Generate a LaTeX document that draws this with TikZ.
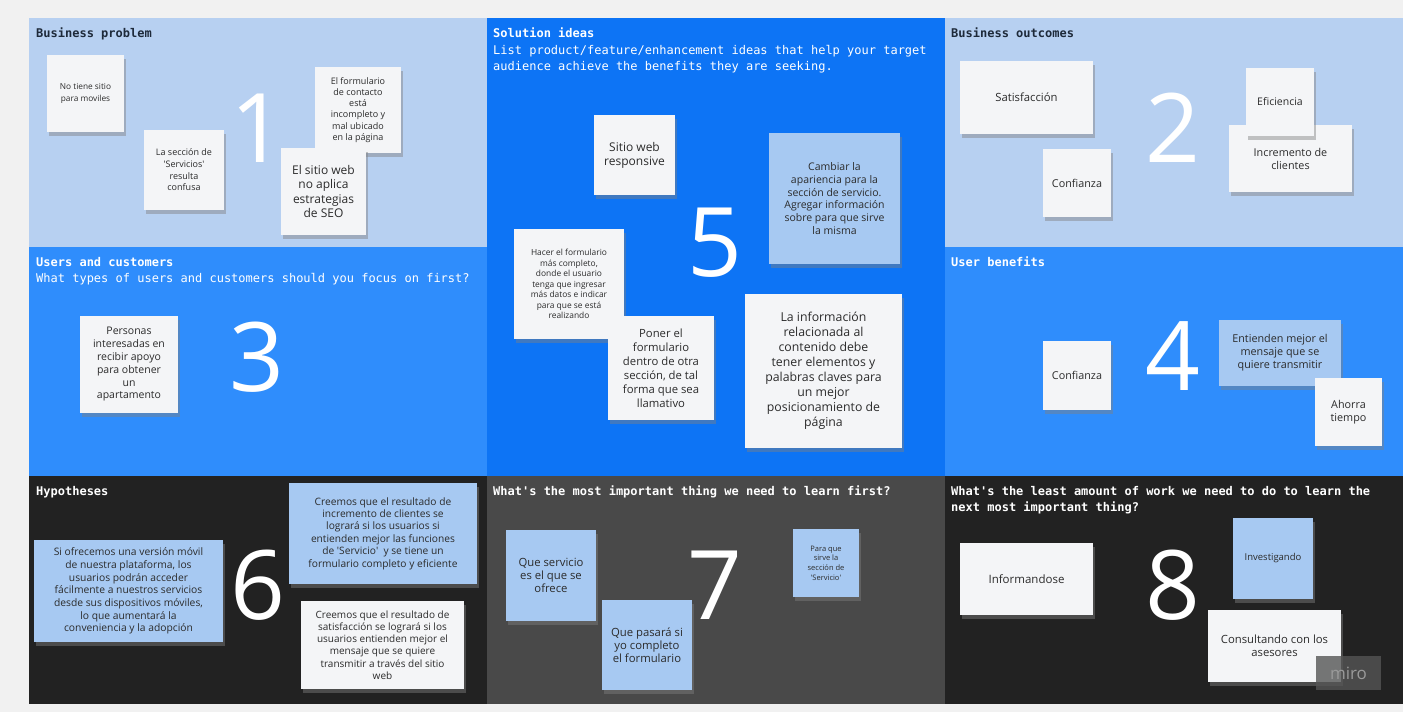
\documentclass[tikz,border=0pt]{standalone}
\usepackage{fontspec}
\usetikzlibrary{shadows}
\newfontfamily\notefont{Open Sans}
\newfontfamily\monofont{DejaVu Sans Mono}
\definecolor{pagebg}{HTML}{F1F1F1}
\definecolor{lightpanel}{HTML}{B7D0F1}
\definecolor{brightpanel}{HTML}{0D74F5}
\definecolor{midpanel}{HTML}{2F8DFC}
\definecolor{darkpanel}{HTML}{222222}
\definecolor{greypanel}{HTML}{494949}
\definecolor{notewhite}{HTML}{F4F5F7}
\definecolor{noteblue}{HTML}{A7C9F2}
\definecolor{notetext}{HTML}{2B2B2B}
\definecolor{titledark}{HTML}{1E2A3A}
\definecolor{mirogrey}{HTML}{555555}
\definecolor{mirotext}{HTML}{9A9A9A}
\tikzset{
  sticky/.style={fill=notewhite, text=notetext, align=center, inner sep=2pt,
    drop shadow={shadow xshift=2pt, shadow yshift=-4pt, opacity=.45}},
  bluesticky/.style={sticky, fill=noteblue},
  txt/.style 2 args={font=\notefont\fontsize{#1}{#2}\selectfont},
  bignum/.style={text=white, inner sep=0pt, font=\notefont\fontsize{96}{96}\selectfont},
  paneltitle/.style={anchor=north west, inner sep=0pt, align=left,
    font=\monofont\fontsize{12}{16.5}\selectfont}
}
\begin{document}
\begin{tikzpicture}[x=1pt,y=-1pt]
\useasboundingbox (0,0) rectangle (1403,712);
\fill[pagebg] (0,0) rectangle (1403,712);
\fill[lightpanel] (29,18) rectangle (487,247);
\fill[brightpanel] (487,18) rectangle (945,476);
\fill[lightpanel] (945,18) rectangle (1403,247);
\fill[midpanel] (29,247) rectangle (487,476);
\fill[midpanel] (945,247) rectangle (1403,476);
\fill[darkpanel] (29,476) rectangle (487,704);
\fill[greypanel] (487,476) rectangle (945,704);
\fill[darkpanel] (945,476) rectangle (1403,704);

\node[paneltitle, text=titledark] (tproblem) at (36,28) {\textbf{Business problem}};
\node[paneltitle, text=white] (tsolution) at (493,28) {\textbf{Solution ideas}\\List product/feature/enhancement ideas that help your target\\audience achieve the benefits they are seeking.};
\node[paneltitle, text=titledark] (toutcomes) at (951,28) {\textbf{Business outcomes}};
\node[paneltitle, text=white] (tusers) at (36,257) {\textbf{Users and customers}\\What types of users and customers should you focus on first?};
\node[paneltitle, text=white] (tbenefits) at (951,257) {\textbf{User benefits}};
\node[paneltitle, text=white] (thypo) at (36,486) {\textbf{Hypotheses}};
\node[paneltitle, text=white] (tlearn) at (493,486) {\textbf{What\textquotesingle s the most important thing we need to learn first?}};
\node[paneltitle, text=white] (twork) at (951,486) {\textbf{What\textquotesingle s the least amount of work we need to do to learn the}\\\textbf{next most important thing?}};

\node[bignum] (num1) at (258,128) {1};
\node[bignum] (num2) at (1173,128) {2};
\node[bignum] (num3) at (257,357) {3};
\node[bignum] (num4) at (1173,356) {4};
\node[bignum] (num5) at (715,243) {5};
\node[bignum] (num6) at (258,585) {6};
\node[bignum] (num7) at (715,585) {7};
\node[bignum] (num8) at (1173,585) {8};

\node[sticky, txt={8.3}{11.5}, minimum width=77pt, minimum height=77pt] (nomovil) at (85.5,93.5) {No tiene sitio\\para moviles};
\node[sticky, txt={9}{11.7}, minimum width=80pt, minimum height=80pt] (servicios) at (184,170) {La sección de\\\textquotesingle Servicios\textquotesingle\\resulta\\confusa};
\node[sticky, txt={9}{11.2}, minimum width=86pt, minimum height=86pt] (formulario) at (358,110) {El formulario\\de contacto\\está\\incompleto y\\mal ubicado\\en la página};
\node[sticky, txt={12}{14.5}, minimum width=85pt, minimum height=87pt] (seo) at (323.5,191.5) {El sitio web\\no aplica\\estrategias\\de SEO};

\node[sticky, txt={12}{14}, minimum width=81pt, minimum height=80pt] (responsive) at (634.5,155) {Sitio web\\responsive};
\node[bluesticky, txt={10.5}{12.7}, minimum width=131pt, minimum height=131pt] (apariencia) at (834.5,198.5) {Cambiar la\\apariencia para la\\sección de servicio.\\Agregar información\\sobre para que sirve\\la misma};
\node[sticky, txt={8.4}{10.5}, minimum width=110pt, minimum height=110pt] (completo) at (569,284) {Hacer el formulario\\más completo,\\donde el usuario\\tenga que ingresar\\más datos e indicar\\para que se está\\realizando};
\node[sticky, txt={11.3}{14}, minimum width=106pt, minimum height=104pt] (llamativo) at (661,368) {Poner el\\formulario\\dentro de otra\\sección, de tal\\forma que sea\\llamativo};
\node[sticky, txt={12.3}{15}, minimum width=157pt, minimum height=154pt] (palabras) at (823.5,371) {La información\\relacionada al\\contenido debe\\tener elementos y\\palabras claves para\\un mejor\\posicionamiento de\\página};

\node[sticky, txt={11.3}{13}, minimum width=133pt, minimum height=73pt] (satisfaccion) at (1026.5,97.5) {Satisfacción};
\node[sticky, txt={10.8}{13}, minimum width=68pt, minimum height=68pt] (confianza) at (1077,183) {Confianza};
\node[sticky, txt={10.8}{13}, minimum width=123pt, minimum height=67pt] (incremento) at (1290.5,158.5) {Incremento de\\clientes};
\node[sticky, txt={10.5}{13}, minimum width=68pt, minimum height=68pt] (eficiencia) at (1280,102) {Eficiencia};

\node[sticky, txt={10.5}{12.8}, minimum width=98pt, minimum height=97pt] (personas) at (129,364.5) {Personas\\interesadas en\\recibir apoyo\\para obtener\\un\\apartamento};

\node[sticky, txt={10.8}{13}, minimum width=68pt, minimum height=69pt] (confianzab) at (1077,375.5) {Confianza};
\node[bluesticky, txt={10.8}{13}, minimum width=122pt, minimum height=66pt] (entienden) at (1280,353) {Entienden mejor el\\mensaje que se\\quiere transmitir};
\node[sticky, txt={10.8}{13}, minimum width=67pt, minimum height=68pt] (ahorra) at (1348.5,412) {Ahorra\\tiempo};

\node[bluesticky, txt={10.3}{12.7}, minimum width=189pt, minimum height=102pt] (movil) at (128.5,591) {Si ofrecemos una versión móvil\\de nuestra plataforma, los\\usuarios podrán acceder\\fácilmente a nuestros servicios\\desde sus dispositivos móviles,\\lo que aumentará la\\conveniencia y la adopción};
\node[bluesticky, txt={10.2}{12.4}, minimum width=188pt, minimum height=101pt] (hipclientes) at (383,533.5) {Creemos que el resultado de\\incremento de clientes se\\logrará si los usuarios si\\entienden mejor las funciones\\de \textquotesingle Servicio\textquotesingle\ \ y se tiene un\\formulario completo y eficiente};
\node[sticky, txt={10}{12.2}, minimum width=163pt, minimum height=88pt] (hipsatisf) at (382.5,645) {Creemos que el resultado de\\satisfacción se logrará si los\\usuarios entienden mejor el\\mensaje que se quiere\\transmitir a través del sitio\\web};

\node[bluesticky, txt={11.3}{13}, minimum width=90pt, minimum height=91pt] (queservicio) at (551,575.5) {Que servicio\\es el que se\\ofrece};
\node[bluesticky, txt={11.3}{12.8}, minimum width=90pt, minimum height=90pt] (quepasara) at (647,645) {Que pasará si\\yo completo\\el formulario};
\node[bluesticky, txt={7.5}{9.7}, minimum width=66pt, minimum height=68pt] (paraque) at (826,563) {Para que\\sirve la\\sección de\\\textquotesingle Servicio\textquotesingle};

\node[sticky, txt={11.5}{13}, minimum width=133pt, minimum height=72pt] (informandose) at (1026.5,579) {Informandose};
\node[bluesticky, txt={9.5}{12}, minimum width=80pt, minimum height=81pt] (investigando) at (1273,558.5) {Investigando};
\node[sticky, txt={11.3}{13}, minimum width=133pt, minimum height=72pt] (consultando) at (1274.5,646) {Consultando con los\\asesores};

\node[fill=mirogrey, fill opacity=.8, text opacity=1, text=mirotext, minimum width=65pt, minimum height=34pt, font=\notefont\fontsize{17}{17}\selectfont] (miro) at (1348.5,673) {miro};
\end{tikzpicture}
\end{document}
